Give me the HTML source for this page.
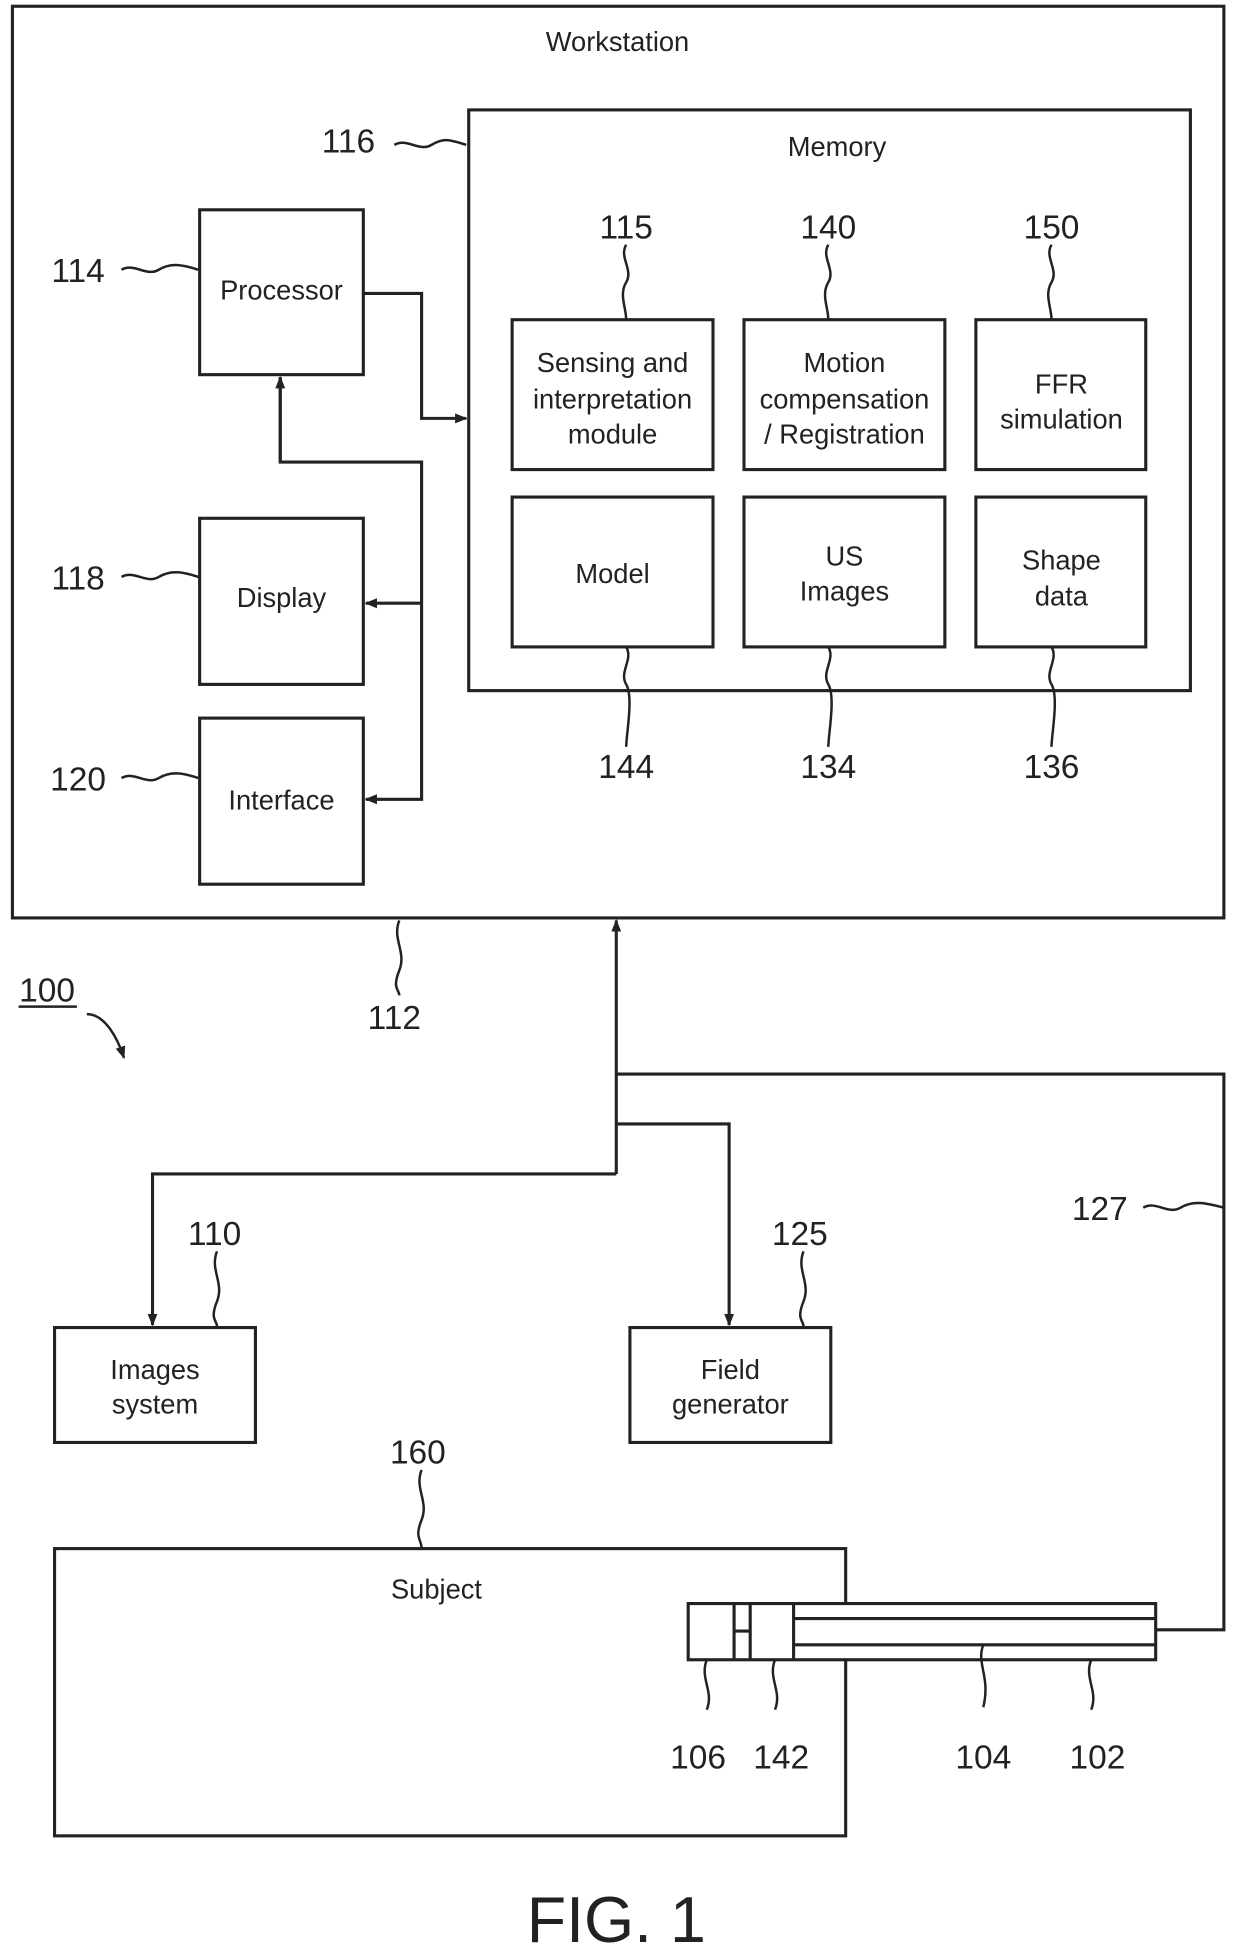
<!DOCTYPE html>
<html><head><meta charset="utf-8"><style>html,body{margin:0;padding:0;background:#fff}svg{display:block}</style></head><body>
<svg width="1240" height="1952" viewBox="0 0 1000 1563" preserveAspectRatio="none" xmlns="http://www.w3.org/2000/svg" font-family="Liberation Sans, sans-serif" fill="none" stroke="#222" stroke-width="2.5">
<defs><marker id="a" markerWidth="10" markerHeight="10" refX="9" refY="5" orient="auto" markerUnits="userSpaceOnUse"><path d="M0,1 L10,5 L0,9 Z" fill="#222" stroke="none"/></marker></defs>
<rect x="10" y="5" width="977" height="730"/>
<rect x="378" y="88" width="582" height="465"/>
<rect x="161" y="168" width="132" height="132"/>
<rect x="161" y="415" width="132" height="133"/>
<rect x="161" y="575" width="132" height="133"/>
<rect x="413" y="256" width="162" height="120"/><rect x="600" y="256" width="162" height="120"/><rect x="787" y="256" width="137" height="120"/>
<rect x="413" y="398" width="162" height="120"/><rect x="600" y="398" width="162" height="120"/><rect x="787" y="398" width="137" height="120"/>
<rect x="44" y="1063" width="162" height="92"/><rect x="508" y="1063" width="162" height="92"/>
<rect x="44" y="1240" width="638" height="230"/>
<rect x="555" y="1284" width="377" height="45" fill="#fff"/>
<path d="M640,1296 H932 M640,1317 H932 M592,1284 V1329 M605,1284 V1329 M640,1284 V1329 M592,1306 H605"/>
<path d="M293,235 H340 V335 H376" marker-end="url(#a)"/>
<path d="M226,302 V370 H340 V640 H295" marker-end="url(#a)"/>
<path d="M226,370 V302" marker-end="url(#a)"/>
<path d="M340,483 H295" marker-end="url(#a)"/>
<path d="M497,940 V737" marker-end="url(#a)"/>
<path d="M497,940 H123 V1061" marker-end="url(#a)"/>
<path d="M497,900 H588 V1061" marker-end="url(#a)"/>
<path d="M497,860 H987 V1305 H932"/>
<g stroke-width="2">
<path d="M318,116 c10,-6 20,6 30,0 s15,-4 28,0"/>
<path d="M98,216 c10,-6 20,6 30,0 s20,-4 32,0"/>
<path d="M98,462 c10,-6 20,6 30,0 s20,-4 32,0"/>
<path d="M98,623 c10,-6 20,6 30,0 s20,-4 32,0"/>
<path d="M505,196 c-6,10 6,20 0,30 s0,20 0,30"/><path d="M668,196 c-6,10 6,20 0,30 s0,20 0,30"/><path d="M848,196 c-6,10 6,20 0,30 s0,20 0,30"/>
<path d="M505,518 c6,10 -6,20 0,30 s0,40 0,50"/><path d="M668,518 c6,10 -6,20 0,30 s0,40 0,50"/><path d="M848,518 c6,10 -6,20 0,30 s0,40 0,50"/>
<path d="M322,737 c-6,15 6,25 0,40 s0,15 0,20"/>
<path d="M175,1002 c-6,15 6,25 0,40 s0,15 0,20"/>
<path d="M648,1002 c-6,15 6,25 0,40 s0,15 0,20"/>
<path d="M340,1177 c-6,15 6,25 0,40 s0,15 0,23"/>
<path d="M922,967 c10,-6 20,6 30,0 s20,-4 35,0"/>
<path d="M570,1329 c-6,15 6,25 0,40"/><path d="M625,1329 c-6,15 6,25 0,40"/><path d="M793,1317 c-6,15 6,25 0,50"/><path d="M880,1329 c-6,15 6,25 0,40"/>
<path d="M70,812 c15,0 25,20 30,35" marker-end="url(#a)"/>
<path d="M15,806 H62"/>
</g>
<g fill="#222" stroke="none" font-size="22" text-anchor="middle">
<text x="498" y="41">Workstation</text><text x="675" y="125">Memory</text>
<text x="227" y="240">Processor</text><text x="227" y="486">Display</text><text x="227" y="648">Interface</text>
<text x="494" y="298">Sensing and</text><text x="494" y="327">interpretation</text><text x="494" y="355">module</text>
<text x="681" y="298">Motion</text><text x="681" y="327">compensation</text><text x="681" y="355">/ Registration</text>
<text x="856" y="315">FFR</text><text x="856" y="343">simulation</text>
<text x="494" y="467">Model</text><text x="681" y="453">US</text><text x="681" y="481">Images</text>
<text x="856" y="456">Shape</text><text x="856" y="485">data</text>
<text x="125" y="1104">Images</text><text x="125" y="1132">system</text>
<text x="589" y="1104">Field</text><text x="589" y="1132">generator</text>
<text x="352" y="1280">Subject</text>
</g>
<g fill="#222" stroke="none" font-size="27" text-anchor="middle">
<text x="281" y="122">116</text><text x="63" y="226">114</text><text x="63" y="472">118</text><text x="63" y="633">120</text>
<text x="505" y="191">115</text><text x="668" y="191">140</text><text x="848" y="191">150</text>
<text x="505" y="623">144</text><text x="668" y="623">134</text><text x="848" y="623">136</text>
<text x="318" y="824">112</text><text x="38" y="802">100</text>
<text x="173" y="997">110</text><text x="645" y="997">125</text><text x="887" y="977">127</text><text x="337" y="1172">160</text>
<text x="563" y="1416">106</text><text x="630" y="1416">142</text><text x="793" y="1416">104</text><text x="885" y="1416">102</text>
<text x="497" y="1555" font-size="52">FIG. 1</text>
</g>
</svg>
</body></html>
